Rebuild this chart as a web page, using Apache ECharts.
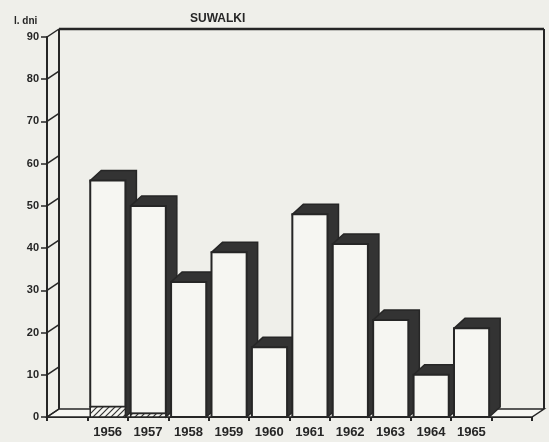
<!DOCTYPE html>
<html><head><meta charset="utf-8">
<script src="https://cdn.jsdelivr.net/npm/echarts/dist/echarts.min.js"></script>
<style>html,body{margin:0;padding:0;background:#efefea}#c{width:549px;height:442px}</style>
</head><body><div id="c"></div>
<script>
// ---- data ----
const categories = ['', '1956', '1957', '1958', '1959', '1960', '1961', '1962', '1963', '1964', '1965', ''];
const totalDays = [null, 56, 50, 32, 39, 16.5, 48, 41, 23, 10, 21, null];
const hatchedDays = [null, 2.4, 0.8, 0, 0, 0, 0, 0, 0, 0, 0, null];
const yTickValues = [0, 10, 20, 30, 40, 50, 60, 70, 80, 90];
const titleText = 'SUWALKI';
const unitText = 'l. dni';

// ---- layout / style ----
const gridLeft = 47, gridRight = 17, gridTop = 37, gridBottom = 25;
const W = 549, H = 442;
const ink = '#262626', dark = '#333333', paper = '#f6f6f2';
const fx = 12, fy = -8;      // frame depth
const bdx = 11, bdy = -10;   // bar depth

const pc = document.createElement('canvas');
pc.width = 6; pc.height = 6;
const g = pc.getContext('2d');
g.fillStyle = paper; g.fillRect(0, 0, 6, 6);
g.strokeStyle = '#333'; g.lineWidth = 1.2;
g.beginPath();
g.moveTo(0, 6); g.lineTo(6, 0);
g.moveTo(-3, 3); g.lineTo(3, -3);
g.moveTo(3, 9); g.lineTo(9, 3);
g.stroke();
const hatch = { image: pc, repeat: 'repeat' };

const barData = [];
for (let i = 0; i < categories.length; i++) {
  if (totalDays[i] != null) barData.push([i, totalDays[i], hatchedDays[i]]);
}

const chart = echarts.init(document.getElementById('c'), null, { renderer: 'canvas' });

const option = {
  backgroundColor: '#efefea',
  animation: false,
  title: [
    { text: titleText, left: 185, top: 8, textStyle: { fontFamily: 'Liberation Sans', fontWeight: 'bold', fontSize: 12, color: ink } },
    { text: unitText, left: 9, top: 11, textStyle: { fontFamily: 'Liberation Sans', fontWeight: 'bold', fontSize: 10, color: ink } }
  ],
  grid: { left: gridLeft, right: gridRight, top: gridTop, bottom: gridBottom },
  xAxis: {
    type: 'category', data: categories, boundaryGap: true,
    axisLine: { show: true, lineStyle: { color: ink, width: 2 } },
    axisTick: { show: true, length: 4, inside: false, lineStyle: { color: ink, width: 2 }, interval: 0 },
    axisLabel: { interval: 0, margin: 9, fontFamily: 'Liberation Sans', fontWeight: 'bold', fontSize: 13, color: ink },
    splitLine: { show: false }
  },
  yAxis: {
    type: 'value', min: 0, max: 90, interval: 10,
    axisLine: { show: true, lineStyle: { color: ink, width: 2 } },
    axisTick: { show: true, length: 6, lineStyle: { color: ink, width: 1.5 } },
    axisLabel: { margin: 8, fontFamily: 'Liberation Sans', fontWeight: 'bold', fontSize: 11, color: ink },
    splitLine: { show: false }
  },
  series: [{
    type: 'custom',
    z: 5,
    data: barData,
    renderItem: function (params, api) {
      const i = api.value(0), tot = api.value(1), h = api.value(2);
      const base = api.coord([i, 0]);
      const top = api.coord([i, tot]);
      const hp = api.coord([i, h]);
      const bw = api.size([1, 0])[0];
      const c = base[0];
      const L = c - 0.43 * bw, R = c + 0.44 * bw;
      const by = base[1], ty = top[1], hy = hp[1];
      const children = [
        { type: 'polygon', shape: { points: [[L, ty], [L + bdx, ty + bdy], [R + bdx, ty + bdy], [R + bdx, by + bdy], [R, by]] },
          style: { fill: dark, stroke: ink, lineWidth: 1.5 } },
        { type: 'rect', shape: { x: L, y: ty, width: R - L, height: hy - ty },
          style: { fill: paper, stroke: ink, lineWidth: 2 } }
      ];
      if (h > 0) {
        children.push({ type: 'rect', shape: { x: L, y: hy, width: R - L, height: by - hy },
          style: { fill: hatch, stroke: ink, lineWidth: 1.5 } });
      }
      return { type: 'group', children: children };
    }
  }]
};
chart.setOption(option);

// frame (back wall, floor, tick diagonals) from axis conversion
const y0 = chart.convertToPixel({ yAxisIndex: 0 }, 0);
const yTop = chart.convertToPixel({ yAxisIndex: 0 }, 90);
const gL = gridLeft, gR = W - gridRight;
const els = [];
els.push({ type: 'polygon', z: 1, shape: { points: [[gL, y0], [gL + fx, y0 + fy], [gR + fx, y0 + fy], [gR, y0]] },
  style: { fill: paper, stroke: ink, lineWidth: 1.5 } });
els.push({ type: 'line', z: 1, shape: { x1: gL + fx, y1: yTop + fy, x2: gL + fx, y2: y0 + fy }, style: { stroke: ink, lineWidth: 2 } });
els.push({ type: 'line', z: 1, shape: { x1: gL + fx, y1: yTop + fy, x2: gR + fx, y2: yTop + fy }, style: { stroke: ink, lineWidth: 2.5 } });
els.push({ type: 'line', z: 1, shape: { x1: gR + fx, y1: yTop + fy, x2: gR + fx, y2: y0 + fy }, style: { stroke: ink, lineWidth: 2 } });
yTickValues.forEach(v => {
  const yy = chart.convertToPixel({ yAxisIndex: 0 }, v);
  els.push({ type: 'line', z: 1, shape: { x1: gL, y1: yy, x2: gL + fx, y2: yy + fy }, style: { stroke: ink, lineWidth: 1.5 } });
});
chart.setOption({ graphic: { elements: els } });
</script>
</body></html>
